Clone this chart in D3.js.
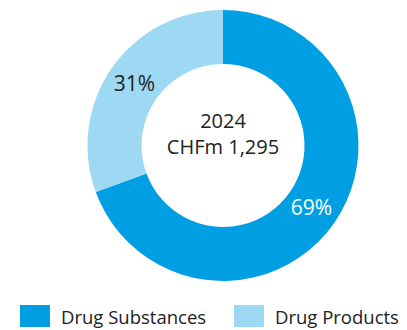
<!DOCTYPE html>
<html>
<head>
<meta charset="utf-8">
<script src="https://cdn.jsdelivr.net/npm/d3@7"></script>
<style>
  body { margin: 0; background: #fff; }
  svg { display: block; font-family: "Open Sans", "Noto Sans", sans-serif; }
</style>
</head>
<body>
<div id="chart"></div>
<script>
var categories = ["Drug Substances", "Drug Products"];
var values = [899, 396];            // CHFm
var percents = ["69%", "31%"];
var colors = ["#009fe3", "#9dd9f3"];
var centerLines = ["2024", "CHFm 1,295"];

var width = 407, height = 330,
  cx = 223, cy = 145.5,
  outerR = 135.5, innerR = 81.5;

var svg = d3.select("#chart").append("svg")
  .attr("width", width)
  .attr("height", height);

var data = categories.map(function (c, i) {
  return {name: c, value: values[i], label: percents[i], color: colors[i]};
});

var pie = d3.pie().sort(null).value(function (d) { return d.value; });
var arc = d3.arc().innerRadius(innerR).outerRadius(outerR);
var labelArc = d3.arc().innerRadius(108).outerRadius(108);

var g = svg.append("g").attr("transform", "translate(" + cx + "," + cy + ")");

var slices = pie(data);

g.selectAll("path")
  .data(slices)
  .enter().append("path")
  .attr("d", arc)
  .attr("fill", function (d) { return d.data.color; });

g.selectAll("text.pct")
  .data(slices)
  .enter().append("text")
  .attr("class", "pct")
  .attr("transform", function (d) { return "translate(" + labelArc.centroid(d) + ")"; })
  .attr("text-anchor", "middle")
  .attr("dy", "0.36em")
  .attr("font-size", 21)
  .attr("fill", function (d, i) { return i === 0 ? "#fff" : "#222"; })
  .text(function (d) { return d.data.label; });

// centre text
g.selectAll("text.center")
  .data(centerLines)
  .enter().append("text")
  .attr("class", "center")
  .attr("text-anchor", "middle")
  .attr("y", function (d, i) { return -17.5 + i * 26; })
  .attr("font-size", 20)
  .attr("fill", "#222")
  .text(function (d) { return d; });

// legend
var legendX = [20, 234];
var legend = svg.selectAll("g.legend")
  .data(data)
  .enter().append("g")
  .attr("class", "legend")
  .attr("transform", function (d, i) { return "translate(" + legendX[i] + ",305)"; });

legend.append("rect")
  .attr("width", 30)
  .attr("height", 22)
  .attr("fill", function (d) { return d.color; });

legend.append("text")
  .attr("x", 41)
  .attr("y", 19)
  .attr("font-size", 18.5)
  .attr("fill", "#222")
  .text(function (d) { return d.name; });
</script>
</body>
</html>
